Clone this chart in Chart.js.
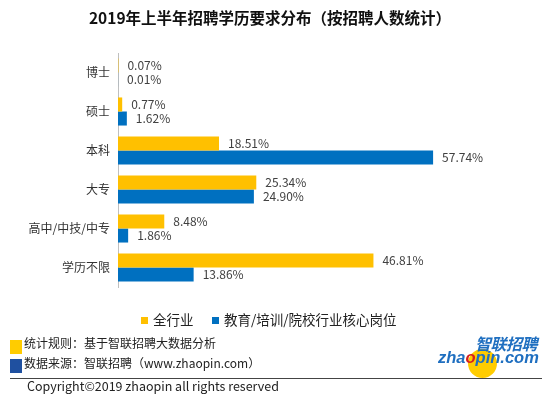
<!DOCTYPE html>
<html>
<head>
<meta charset="utf-8">
<script src="https://cdn.jsdelivr.net/npm/chart.js@4/dist/chart.umd.min.js"></script>
<style>
  body { margin: 0; background: #fff; font-family: "Noto Sans CJK SC", "Noto Sans", sans-serif; }
  #wrap { position: relative; width: 550px; height: 408px; overflow: hidden; }
  #c { position: absolute; left: 0; top: 0; }
  .abs { position: absolute; white-space: nowrap; color: #222; line-height: 1; }
  .sq { position: absolute; }
</style>
</head>
<body>
<div id="wrap">
  <canvas id="c" width="550" height="408"></canvas>
  <div class="abs" id="title" style="left:0; width:540px; top:10px; text-align:center; font-size:15.5px; font-weight:bold; color:#111;">2019年上半年招聘学历要求分布（按招聘人数统计）</div>
  <div id="legend"></div>
  <div class="sq" style="left:10px; top:340px; width:12px; height:14px; background:#FFCC00;"></div>
  <div class="sq" style="left:10px; top:359px; width:12px; height:14px; background:#1F50A0;"></div>
  <div class="abs" style="left:24px; top:337px; font-size:12px;">统计规则：基于智联招聘大数据分析</div>
  <div class="abs" style="left:24px; top:357px; font-size:12px;">数据来源：智联招聘（www.zhaopin.com）</div>
  <div style="position:absolute; left:10px; top:378px; width:532px; height:1px; background:#444;"></div>
  <div class="abs" style="left:27px; top:380px; font-size:12.5px;">Copyright©2019 zhaopin all rights reserved</div>
  <div style="position:absolute; left:468px; top:349px; width:29px; height:29px; border-radius:50%; background:#FFCC00;"></div>
  <div class="abs" style="left:475px; top:335px; font-size:16px; font-weight:bold; font-style:italic; color:#1F6FC0; letter-spacing:-0.5px;">智联招聘</div>
  <div class="abs" style="left:438px; top:349px; font-size:16.5px; font-weight:bold; font-style:italic; color:#1F6FC0; font-family:'Liberation Sans', sans-serif;">zha<span style="color:#D62020;">o</span>pin.com</div>
</div>
<script>
const categories = ['博士', '硕士', '本科', '大专', '高中/中技/中专', '学历不限'];
const allIndustry = [0.07, 0.77, 18.51, 25.34, 8.48, 46.81];
const eduCore = [0.01, 1.62, 57.74, 24.90, 1.86, 13.86];
const seriesNames = ['全行业', '教育/培训/院校行业核心岗位'];
const seriesColors = ['#FFC000', '#0070C0'];

// 数值标签
const valueLabels = {
  id: 'valueLabels',
  afterDatasetsDraw(chart) {
    const ctx = chart.ctx;
    ctx.save();
    ctx.font = '12px "Noto Sans CJK SC", sans-serif';
    ctx.fillStyle = '#404040';
    ctx.textBaseline = 'middle';
    ctx.textAlign = 'left';
    chart.data.datasets.forEach((ds, i) => {
      chart.getDatasetMeta(i).data.forEach((bar, j) => {
        ctx.fillText(ds.data[j].toFixed(2) + '%', bar.x + 9, bar.y);
      });
    });
    ctx.restore();
  }
};

const chart = new Chart(document.getElementById('c'), {
  type: 'bar',
  data: {
    labels: categories,
    datasets: [
      { label: seriesNames[0], data: allIndustry, backgroundColor: seriesColors[0] },
      { label: seriesNames[1], data: eduCore, backgroundColor: seriesColors[1] }
    ]
  },
  options: {
    indexAxis: 'y',
    responsive: false,
    animation: false,
    layout: { padding: { top: 53, bottom: 121, right: 50, left: 0 } },
    datasets: { bar: { categoryPercentage: 0.72, barPercentage: 1 } },
    plugins: { legend: { display: false }, title: { display: false }, tooltip: { enabled: false } },
    scales: {
      x: { display: false, min: 0, max: 70 },
      y: {
        grid: { display: false, drawTicks: false },
        border: { display: true, color: '#BFBFBF' },
        ticks: { color: '#333', padding: 8, font: { size: 12, family: '"Noto Sans CJK SC", sans-serif' } },
        afterFit(scale) { scale.width = 118; }
      }
    }
  },
  plugins: [valueLabels]
});

// 图例
const legend = document.getElementById('legend');
const legendPos = [[141, 153], [212, 224]];
seriesNames.forEach((name, i) => {
  const sq = document.createElement('div');
  sq.className = 'sq';
  sq.style.cssText = `left:${legendPos[i][0]}px; top:317px; width:7px; height:7px; background:${seriesColors[i]};`;
  legend.appendChild(sq);
  const t = document.createElement('div');
  t.className = 'abs';
  t.style.cssText = `left:${legendPos[i][1]}px; top:313px; font-size:13.5px;`;
  t.textContent = name;
  legend.appendChild(t);
});
</script>
</body>
</html>
